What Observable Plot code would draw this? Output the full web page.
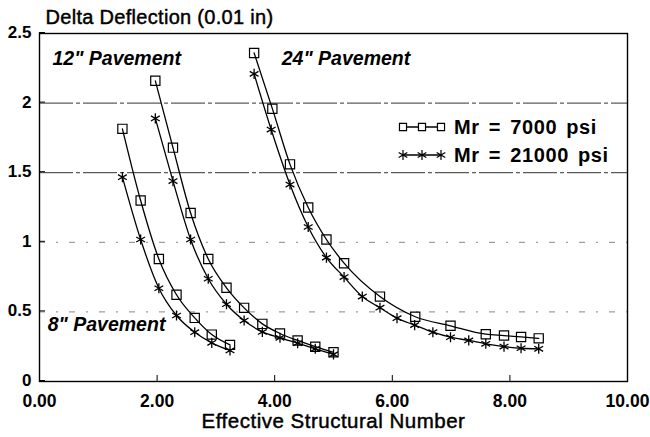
<!DOCTYPE html>
<html><head><meta charset="utf-8">
<script src="https://cdn.jsdelivr.net/npm/d3@7"></script>
<script src="https://cdn.jsdelivr.net/npm/@observablehq/plot@0.6"></script>
<style>
html,body{margin:0;padding:0;background:#fff;}
#chart{position:relative;width:650px;height:437px;font-family:"Liberation Sans",Arial,sans-serif;}
#legend{position:absolute;left:397px;top:113px;}
.row{display:flex;align-items:center;height:28px;font-weight:bold;font-size:20px;letter-spacing:0.6px;word-spacing:3px;color:#000;white-space:nowrap;}
.row svg{margin-right:7px;display:block}
</style></head><body><div id="chart"></div>
<script>
// Effective structural number (x) and delta deflection (y)
const sn8 = [1.41,1.72,2.03,2.33,2.64,2.93,3.24];
const dd8_7000 = [1.815,1.30,0.88,0.623,0.457,0.337,0.263];
const dd8_21000 = [1.468,1.02,0.67,0.474,0.354,0.278,0.223];
const sn12 = [1.97,2.27,2.57,2.87,3.18,3.48,3.79,4.09,4.39,4.69,5.0];
const dd12_7000 = [2.16,1.68,1.21,0.88,0.673,0.529,0.414,0.345,0.295,0.25,0.21];
const dd12_21000 = [1.89,1.44,1.02,0.738,0.555,0.438,0.356,0.314,0.275,0.235,0.195];
const sn24_7000 = [3.65,3.96,4.26,4.57,4.88,5.18,5.79,6.39,6.99,7.59,7.9,8.19,8.49];
const dd24_7000 = [2.36,1.96,1.56,1.25,1.02,0.85,0.61,0.465,0.40,0.34,0.33,0.32,0.31];
const sn24_21000 = [3.65,3.94,4.26,4.57,4.88,5.18,5.49,5.79,6.08,6.38,6.69,6.99,7.3,7.59,7.9,8.19,8.49];
const dd24_21000 = [2.21,1.81,1.415,1.11,0.89,0.75,0.61,0.53,0.455,0.405,0.354,0.318,0.295,0.271,0.251,0.239,0.235];

const xTicks = [0,2,4,6,8,10];
const yTicks = [0,0.5,1,1.5,2,2.5];
const gridMajor = [1.5,2];
const gridMinor = [0.5,1];
const seriesLabels = ["Mr = 7000 psi","Mr = 21000 psi"];
const notes = [
  {text: "12\" Pavement", x: 0.22, y: 2.32},
  {text: "24\" Pavement", x: 4.12, y: 2.32},
  {text: "8\" Pavement", x: 0.14, y: 0.41}
];
const yTitle = "Delta Deflection (0.01 in)";
const xTitle = "Effective Structural Number";

const rows = [];
function add(pave, mr, xs, ys){ xs.forEach((x,i)=>rows.push({pave, mr, key: pave+"-"+mr, x, y: ys[i]})); }
add("8","7000",sn8,dd8_7000);
add("8","21000",sn8,dd8_21000);
add("12","7000",sn12,dd12_7000);
add("12","21000",sn12,dd12_21000);
add("24","7000",sn24_7000,dd24_7000);
add("24","21000",sn24_21000,dd24_21000);

const font = "'Liberation Sans', Arial, sans-serif";
const plot = Plot.plot({
  width: 650, height: 437,
  marginLeft: 39, marginRight: 23, marginTop: 33, marginBottom: 56,
  style: {fontFamily: font, background: "white", color: "black"},
  x: {domain: [0,10]},
  y: {domain: [0,2.5]},
  marks: [
    Plot.ruleY(gridMajor, {stroke: "#333", strokeWidth: 1, strokeDasharray: "34,3,4,3"}),
    Plot.ruleY(gridMinor, {stroke: "#888", strokeWidth: 1, strokeDasharray: "6,11,2,11"}),
    Plot.frame({stroke: "black", strokeWidth: 1.4}),
    Plot.axisX({ticks: xTicks, tickSize: -6, tickPadding: 19, tickFormat: d3.format(".2f"), fontSize: 17.5, fontWeight: "bold", label: null}),
    Plot.axisY({ticks: yTicks, tickSize: -6, tickPadding: 14, dy: -1, tickFormat: d => String(d), fontSize: 17, fontWeight: "bold", label: null}),
    Plot.line(rows, {x: "x", y: "y", z: "key", curve: "monotone-x", stroke: "black", strokeWidth: 1.3}),
    Plot.dot(rows.filter(d => d.mr === "7000"), {x: "x", y: "y", symbol: "square", r: 5.2, stroke: "black", strokeWidth: 1.2, fill: "none"}),
    Plot.dot(rows.filter(d => d.mr === "21000"), {x: "x", y: "y", symbol: "asterisk", r: 4.8, stroke: "black", strokeWidth: 1.3}),
    Plot.text(notes, {x: "x", y: "y", text: "text", textAnchor: "start", fontSize: 19.5, fontWeight: "bold", fontStyle: "italic", fill: "black"}),
    Plot.text([yTitle], {text: d => d, frameAnchor: "top-left", dx: 6, dy: -16, lineAnchor: "middle", textAnchor: "start", fontSize: 20, fill: "black", stroke: "black", strokeWidth: 0.45}),
    Plot.text([xTitle], {text: d => d, frameAnchor: "bottom", dy: 40, lineAnchor: "middle", fontSize: 20.5, fill: "black", stroke: "black", strokeWidth: 0.45})
  ]
});
const chart = document.getElementById("chart");
chart.appendChild(plot);
d3.select(plot).selectAll("text").filter(function(){ return this.textContent === xTitle; }).style("letter-spacing", "0.5px");
d3.select(plot).selectAll("text").filter(function(){ return this.textContent === yTitle; }).style("letter-spacing", "0.3px");

// legend
const legend = document.createElement("div");
legend.id = "legend";
const syms = [d3.symbolSquare, d3.symbolAsterisk];
const sizes = [50, 70];
seriesLabels.forEach((lab, i) => {
  const row = document.createElement("div");
  row.className = "row";
  const svg = d3.create("svg").attr("width", 50).attr("height", 16);
  svg.append("line").attr("x1", 5).attr("x2", 45).attr("y1", 8).attr("y2", 8).attr("stroke", "black").attr("stroke-width", 1.3);
  [6, 25, 44].forEach(cx => svg.append("path").attr("d", d3.symbol(syms[i], sizes[i])()).attr("transform", `translate(${cx},8)`).attr("fill", i === 0 ? "white" : "none").attr("stroke", "black").attr("stroke-width", 1.2));
  row.appendChild(svg.node());
  const span = document.createElement("span");
  span.textContent = lab;
  row.appendChild(span);
  legend.appendChild(row);
});
chart.appendChild(legend);
</script></body></html>
